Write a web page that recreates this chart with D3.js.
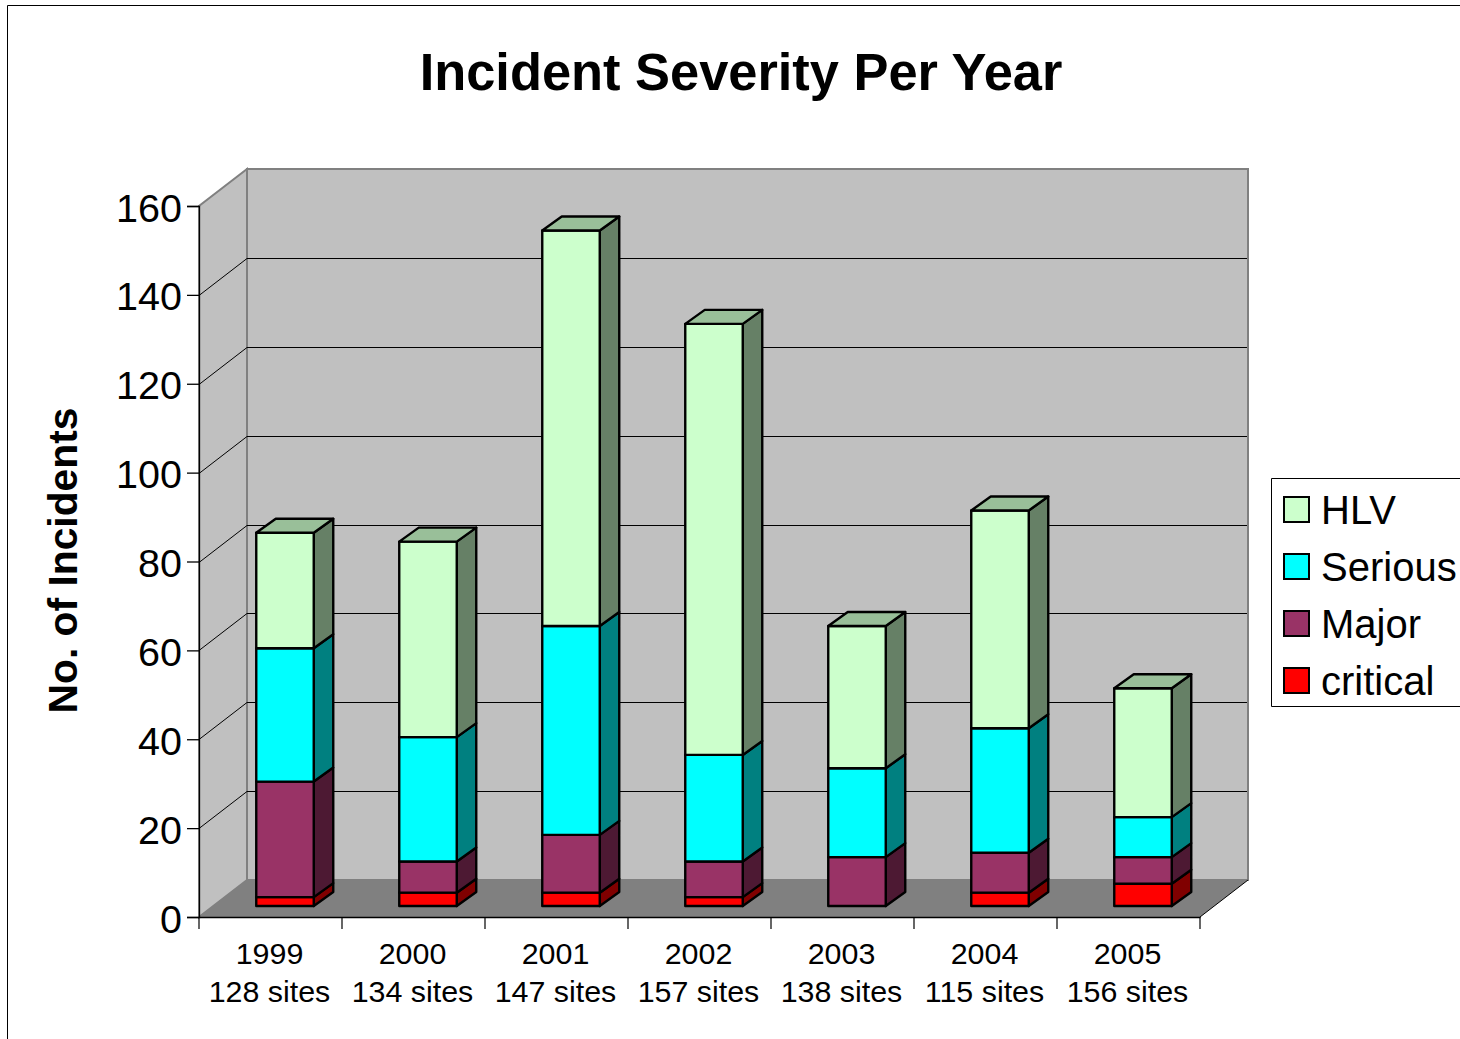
<!DOCTYPE html>
<html>
<head>
<meta charset="utf-8">
<style>
html,body{margin:0;padding:0;background:#fff;overflow:hidden}
svg{display:block}
text{font-family:"Liberation Sans",Arial,sans-serif;fill:#000}
</style>
<script src="https://cdn.jsdelivr.net/npm/d3@7/dist/d3.min.js"></script>
</head>
<body>
<svg id="chart" width="1460" height="1039"></svg>
<script>
// Incident counts per year, by severity
const years = ["1999","2000","2001","2002","2003","2004","2005"];
const sites = ["128 sites","134 sites","147 sites","157 sites","138 sites","115 sites","156 sites"];
const critical = [2,3,3,2,0,3,5];
const major = [26,7,13,8,11,9,6];
const serious = [30,28,47,24,20,28,9];
const hlv = [26,44,89,97,32,49,29];
const yTicks = [0,20,40,60,80,100,120,140,160];

const severities = ["critical","Major","Serious","HLV"];
const legendOrder = ["HLV","Serious","Major","critical"];
const front = {critical:"#ff0000",Major:"#993366",Serious:"#00ffff",HLV:"#ccffcc"};
const side = {critical:"#800000",Major:"#4d1933",Serious:"#008080",HLV:"#668066"};
const topFace = "#99bf99";

const rows = years.map((y,i)=>({year:y,critical:critical[i],Major:major[i],Serious:serious[i],HLV:hlv[i]}));
const stacked = d3.stack().keys(severities)(rows);

// Oblique projection of the chart box
const wallDx = 48, wallDy = -37;
const x = d3.scaleBand().domain(years).range([199,1200]);
const y = d3.scaleLinear().domain([0,160]).range([917,206]);
const barInsetY = -11;
const barShiftX = 14.5;
const barWidth = 57.5;
const barDx = 19.5, barDy = -14;

const svg = d3.select("#chart");
const pts = a => a.map(p=>p.join(",")).join(" ");

// Page frame
svg.append("path").attr("d","M7.5,1039V5.5H1460").attr("fill","none").attr("stroke","#000").attr("stroke-width",1);

// Title
svg.append("text").attr("x",741).attr("y",90).attr("text-anchor","middle")
  .attr("font-size",52.4).attr("font-weight","bold").text("Incident Severity Per Year");

// Side wall, back wall, floor
const [x0,x1] = x.range();
const y0 = y(0), yMax = y(160);
svg.append("polygon").attr("points",pts([[x0,y0],[x0,yMax],[x0+wallDx,yMax+wallDy],[x0+wallDx,y0+wallDy]]))
  .attr("fill","#c0c0c0").attr("stroke","#808080").attr("stroke-width",2);
svg.append("rect").attr("x",x0+wallDx).attr("y",yMax+wallDy).attr("width",x1-x0).attr("height",y0-yMax)
  .attr("fill","#c0c0c0").attr("stroke","#808080").attr("stroke-width",2);
svg.append("polygon").attr("points",pts([[x0,y0],[x1,y0],[x1+wallDx,y0+wallDy],[x0+wallDx,y0+wallDy]]))
  .attr("fill","#808080");

// Gridlines along both walls
const grid = svg.append("g").attr("fill","none").attr("stroke","#000").attr("stroke-width",1);
yTicks.filter(t=>t>0&&t<160).forEach(t=>{
  const yy = Math.round(y(t))+.5;
  grid.append("path").attr("d",`M${x0},${yy}L${x0+wallDx},${yy+wallDy}H${x1+wallDx-1}`);
});

// Front edge of the floor and its right corner
svg.append("path").attr("d",`M${x1+wallDx},${y0+wallDy}L${x1},${y0}`).attr("fill","none").attr("stroke","#000").attr("stroke-width",1);

// Axes
const axisY = d3.axisLeft(y).tickValues(yTicks).tickSize(12).tickPadding(6).tickFormat(d3.format("d"));
const gy = svg.append("g").attr("transform",`translate(${x0},0)`).call(axisY);
gy.selectAll("text").attr("font-size",39.5).attr("dy",".38em").attr("dx","1");
gy.selectAll(".domain,line").attr("stroke","#000").attr("stroke-width",1.3);

const axisX = d3.axisBottom(x).tickSize(0).tickFormat("");
const gx = svg.append("g").attr("transform",`translate(0,${y0})`).call(axisX);
gx.select(".domain").attr("stroke","#000").attr("stroke-width",1.3);
gx.selectAll(".tick").remove();
const bounds = years.map(d=>x(d)).concat([x1]);
gx.selectAll("line.sep").data(bounds).join("line").attr("class","sep")
  .attr("x1",d=>d).attr("x2",d=>d).attr("y1",0).attr("y2",12)
  .attr("stroke","#000").attr("stroke-width",1.2);

// Two-line category labels
const catLabels = svg.append("g").attr("text-anchor","middle").attr("font-size",30.4);
years.forEach((yr,i)=>{
  const cx = x(yr)+x.bandwidth()/2-1;
  catLabels.append("text").attr("x",cx).attr("y",964).text(yr);
  catLabels.append("text").attr("x",cx).attr("y",1002).text(sites[i]);
});

// Axis title
svg.append("text").attr("transform","translate(77,560.5) rotate(-90)")
  .attr("text-anchor","middle").attr("font-size",40.8).attr("font-weight","bold").text("No. of Incidents");

// Stacked 3D columns
const barY = v => y(v)+barInsetY;
const bars = svg.append("g").attr("stroke","#000").attr("stroke-width",2.4).attr("stroke-linejoin","round");
years.forEach((yr,i)=>{
  const left = x(yr)+x.bandwidth()/2+barShiftX-barWidth/2;
  const right = left+barWidth;
  const g = bars.append("g");
  stacked.forEach(layer=>{
    const [a,b] = layer[i];
    if(b===a) return;
    g.append("polygon").attr("fill",side[layer.key])
      .attr("points",pts([[right,barY(a)],[right,barY(b)],[right+barDx,barY(b)+barDy],[right+barDx,barY(a)+barDy]]));
    g.append("rect").attr("fill",front[layer.key])
      .attr("x",left).attr("y",barY(b)).attr("width",barWidth).attr("height",barY(a)-barY(b));
  });
  const total = stacked[stacked.length-1][i][1];
  g.append("polygon").attr("fill",topFace)
    .attr("points",pts([[left,barY(total)],[right,barY(total)],[right+barDx,barY(total)+barDy],[left+barDx,barY(total)+barDy]]));
});

// Legend
const legend = svg.append("g");
legend.append("path").attr("d","M1460,478.5H1271.5V706.5H1460").attr("fill","#fff").attr("stroke","#000").attr("stroke-width",1);
const legendRow = d3.scalePoint().domain(legendOrder).range([497,668]);
legendOrder.forEach(k=>{
  legend.append("rect").attr("x",1284).attr("y",legendRow(k)).attr("width",25).attr("height",25)
    .attr("fill",front[k]).attr("stroke","#000").attr("stroke-width",2);
  legend.append("text").attr("x",1321).attr("y",legendRow(k)+27).attr("font-size",40).text(k);
});
</script>
</body>
</html>
